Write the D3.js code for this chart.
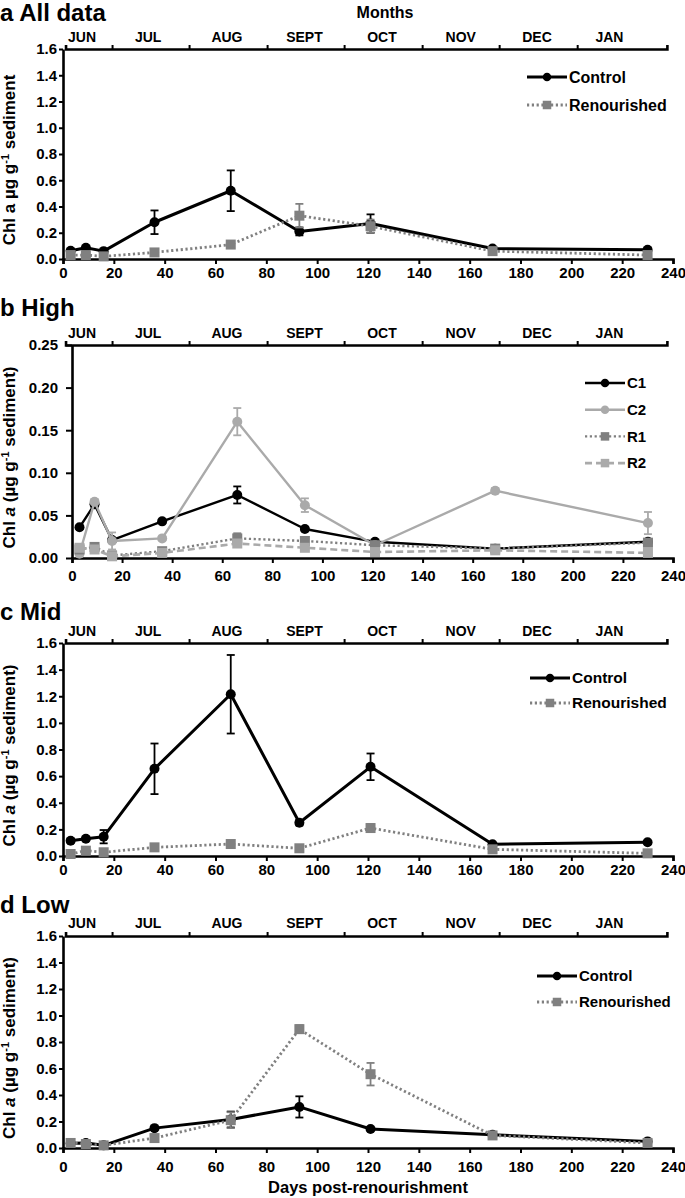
<!DOCTYPE html>
<html><head><meta charset="utf-8">
<script src="https://cdn.jsdelivr.net/npm/d3@7"></script>
<style>
body{margin:0;background:#fff}
svg{display:block;font-family:"Liberation Sans",Arial,sans-serif;font-weight:bold}
</style></head><body>
<svg width="685" height="1198"></svg>
<script>
// sampling days (days post-renourishment)
const days = [3, 9, 16, 36, 66, 93, 121, 169, 230];
const months = ["JUN", "JUL", "AUG", "SEPT", "OCT", "NOV", "DEC", "JAN"];
const monthMid = [7.5, 33.5, 64.5, 95, 125.5, 156.5, 186.5, 215];
const monthEdges = [1, 19.3, 49.6, 80.3, 110.6, 141.3, 171.6, 202.3, 237.6];

// a: all data
const allControl = [0.063, 0.086, 0.06, 0.28, 0.52, 0.21, 0.27, 0.08, 0.07];
const allControlErr = [0.01, 0.01, 0.01, 0.09, 0.155, 0.03, 0.07, 0.01, 0.01];
const allRenour = [0.03, 0.03, 0.02, 0.05, 0.11, 0.33, 0.25, 0.06, 0.03];
const allRenourErr = [0.01, 0.01, 0.01, 0.01, 0.01, 0.09, 0.05, 0.01, 0.01];

// b: high shore
const highC1 = [0.036, 0.063, 0.021, 0.043, 0.074, 0.034, 0.019, 0.011, 0.019];
const highC1Err = [0.002, 0.003, 0.002, 0.002, 0.01, 0.002, 0.002, 0.001, 0.002];
const highC2 = [0.005, 0.066, 0.02, 0.023, 0.16, 0.062, 0.015, 0.079, 0.041];
const highC2Err = [0.002, 0.003, 0.01, 0.002, 0.016, 0.008, 0.002, 0.003, 0.013];
const highR1 = [0.01, 0.013, 0.003, 0.008, 0.023, 0.02, 0.015, 0.011, 0.018];
const highR1Err = [0.002, 0.003, 0.002, 0.002, 0.006, 0.003, 0.002, 0.001, 0.003];
const highR2 = [0.012, 0.01, 0.002, 0.006, 0.017, 0.012, 0.007, 0.009, 0.006];
const highR2Err = [0.002, 0.002, 0.002, 0.002, 0.004, 0.002, 0.001, 0.001, 0.001];

// c: mid shore
const midControl = [0.115, 0.13, 0.145, 0.655, 1.215, 0.25, 0.67, 0.088, 0.103];
const midControlErr = [0.015, 0.015, 0.05, 0.19, 0.295, 0.02, 0.1, 0.01, 0.01];
const midRenour = [0.015, 0.04, 0.028, 0.065, 0.09, 0.058, 0.21, 0.05, 0.02];
const midRenourErr = [0.005, 0.01, 0.005, 0.01, 0.01, 0.01, 0.03, 0.01, 0.005];

// d: low shore
const lowControl = [0.035, 0.038, 0.02, 0.15, 0.215, 0.31, 0.143, 0.1, 0.05];
const lowControlErr = [0.005, 0.005, 0.005, 0.01, 0.06, 0.08, 0.01, 0.01, 0.005];
const lowRenour = [0.038, 0.03, 0.02, 0.075, 0.21, 0.897, 0.557, 0.095, 0.038];
const lowRenourErr = [0.005, 0.005, 0.005, 0.01, 0.06, 0.03, 0.085, 0.01, 0.005];

const styles = {
  control: { color: "#000", width: 3, dash: null, shape: "circle" },
  renour: { color: "#808080", width: 2.8, dash: "2.2,2.6", shape: "square" },
  c1: { color: "#000", width: 2.4, dash: null, shape: "circle" },
  c2: { color: "#aaaaaa", width: 2.4, dash: null, shape: "circle" },
  r1: { color: "#7f7f7f", width: 2.4, dash: "2.2,2.6", shape: "square" },
  r2: { color: "#aaaaaa", width: 2.6, dash: "7,4", shape: "square" }
};

const panels = [
  { title: "a All data", top: 49, bottom: 259, left: 63, yMax: 1.6, step: 0.2, fmt: ".1f",
    titleY: 21, monthY: 42, xPad: 3, yPad: 2, yTick: 4, paren: false,
    legend: { x: 527, y: 77, dy: 28, size: 16 },
    series: [
      { name: "Control", v: allControl, e: allControlErr, s: styles.control },
      { name: "Renourished", v: allRenour, e: allRenourErr, s: styles.renour }] },
  { title: "b High", top: 345, bottom: 558, left: 72, yMax: 0.25, step: 0.05, fmt: ".2f",
    titleY: 316, monthY: 338, xPad: 7, yPad: 8, yTick: 6, paren: true,
    legend: { x: 585, y: 383, dy: 26.7, size: 15 },
    series: [
      { name: "C1", v: highC1, e: highC1Err, s: styles.c1 },
      { name: "C2", v: highC2, e: highC2Err, s: styles.c2 },
      { name: "R1", v: highR1, e: highR1Err, s: styles.r1 },
      { name: "R2", v: highR2, e: highR2Err, s: styles.r2 }] },
  { title: "c Mid", top: 643, bottom: 856, left: 63, yMax: 1.6, step: 0.2, fmt: ".1f",
    titleY: 620, monthY: 636, xPad: 3, yPad: 2, yTick: 4, paren: true,
    legend: { x: 530, y: 678, dy: 25, size: 15.5 },
    series: [
      { name: "Control", v: midControl, e: midControlErr, s: styles.control },
      { name: "Renourished", v: midRenour, e: midRenourErr, s: styles.renour }] },
  { title: "d Low", top: 936, bottom: 1148, left: 63, yMax: 1.6, step: 0.2, fmt: ".1f",
    titleY: 913, monthY: 928, xPad: 8, yPad: 2, yTick: 4, paren: true,
    legend: { x: 537, y: 976, dy: 26, size: 15 },
    series: [
      { name: "Control", v: lowControl, e: lowControlErr, s: styles.control },
      { name: "Renourished", v: lowRenour, e: lowRenourErr, s: styles.renour }] }
];

const svg = d3.select("svg");
const right = 673;
const base = d3.scaleLinear().domain([0, 240]).range([63, right]);
const monthX = d3.scaleLinear().domain([1, 237.6]).range([base(1), base(237.6)]);

svg.append("text").attr("x", 385).attr("y", 18).attr("text-anchor", "middle")
  .attr("font-size", 16).text("Months");

function marker(g, shape, cx, cy, color, size) {
  if (shape === "circle") {
    g.append("circle").attr("cx", cx).attr("cy", cy).attr("r", size / 2).attr("fill", color);
  } else {
    g.append("rect").attr("x", cx - size / 2).attr("y", cy - size / 2)
      .attr("width", size).attr("height", size).attr("fill", color);
  }
}

panels.forEach(p => {
  const x = d3.scaleLinear().domain([0, 240]).range([p.left, right]);
  const y = d3.scaleLinear().domain([0, p.yMax]).range([p.bottom, p.top]);
  const g = svg.append("g");

  g.append("text").attr("x", 0).attr("y", p.titleY).attr("font-size", 24).text(p.title);

  // month axis on top
  const mAxis = d3.axisTop(monthX).tickValues(monthEdges.slice(1, -1))
    .tickFormat("").tickSize(4).tickSizeOuter(4);
  const ma = g.append("g").attr("transform", `translate(0,${p.top})`).call(mAxis);
  ma.select(".domain").attr("stroke-width", 2.6);
  ma.selectAll(".tick line").attr("stroke-width", 2);
  g.selectAll(null).data(months).enter().append("text")
    .attr("x", (d, i) => monthX(monthMid[i])).attr("y", p.monthY)
    .attr("text-anchor", "middle").attr("font-size", 14).text(d => d);

  // axes
  const xa = g.append("g").attr("transform", `translate(0,${p.bottom})`)
    .call(d3.axisBottom(x).tickValues(d3.range(0, 241, 20)).tickSize(5).tickSizeOuter(5).tickPadding(p.xPad));
  const ya = g.append("g").attr("transform", `translate(${p.left},0)`)
    .call(d3.axisLeft(y).tickValues(d3.range(0, p.yMax + 1e-9, p.step)).tickFormat(d3.format(p.fmt))
      .tickSize(p.yTick).tickSizeOuter(0).tickPadding(p.yPad));
  [xa, ya].forEach(a => {
    a.select(".domain").attr("stroke-width", 2.6);
    a.selectAll(".tick line").attr("stroke-width", 2);
    a.selectAll("text").attr("font-size", 15).attr("font-family", null).attr("fill", "#000");
  });
  xa.selectAll("text").attr("dy", "0.71em");

  // y label
  const yl = g.append("text").attr("font-size", 17).attr("text-anchor", "middle")
    .attr("transform", `translate(15,${(p.top + p.bottom) / 2 + 6}) rotate(-90)`);
  yl.append("tspan").text("Chl ");
  yl.append("tspan").attr("font-style", p.paren ? "italic" : "normal").text("a");
  yl.append("tspan").text(p.paren ? " (µg g" : " µg g");
  yl.append("tspan").attr("font-size", 11).attr("dy", -6).text("-1");
  yl.append("tspan").attr("dy", 6).text(p.paren ? " sediment)" : " sediment");

  // series
  const line = d3.line().x((d, i) => x(days[i])).y(d => y(d));
  p.series.forEach(se => {
    const s = se.s;
    const sg = g.append("g");
    sg.append("path").datum(se.v).attr("d", line).attr("fill", "none")
      .attr("stroke", s.color).attr("stroke-width", s.width)
      .attr("stroke-dasharray", s.dash).attr("stroke-linejoin", "round");
    se.v.forEach((v, i) => {
      const cx = x(days[i]);
      const y1 = y(v + se.e[i]), y2 = y(Math.max(0, v - se.e[i]));
      sg.append("line").attr("x1", cx).attr("x2", cx).attr("y1", y1).attr("y2", y2)
        .attr("stroke", s.color).attr("stroke-width", 1.8);
      [y1, y2].forEach(yy => sg.append("line").attr("x1", cx - 4).attr("x2", cx + 4)
        .attr("y1", yy).attr("y2", yy).attr("stroke", s.color).attr("stroke-width", 1.8));
      marker(sg, s.shape, cx, y(v), s.color, 10);
    });
  });

  // legend
  const L = p.legend;
  p.series.forEach((se, i) => {
    const ly = L.y + i * L.dy;
    g.append("line").attr("x1", L.x).attr("x2", L.x + 40).attr("y1", ly).attr("y2", ly)
      .attr("stroke", se.s.color).attr("stroke-width", se.s.width).attr("stroke-dasharray", se.s.dash);
    marker(g, se.s.shape, L.x + 20, ly, se.s.color, 8.5);
    g.append("text").attr("x", L.x + 42).attr("y", ly).attr("dy", "0.35em")
      .attr("font-size", L.size).text(se.name);
  });
});

svg.append("text").attr("x", 368).attr("y", 1193).attr("text-anchor", "middle")
  .attr("font-size", 16.5).text("Days post-renourishment");
</script>
</body></html>
